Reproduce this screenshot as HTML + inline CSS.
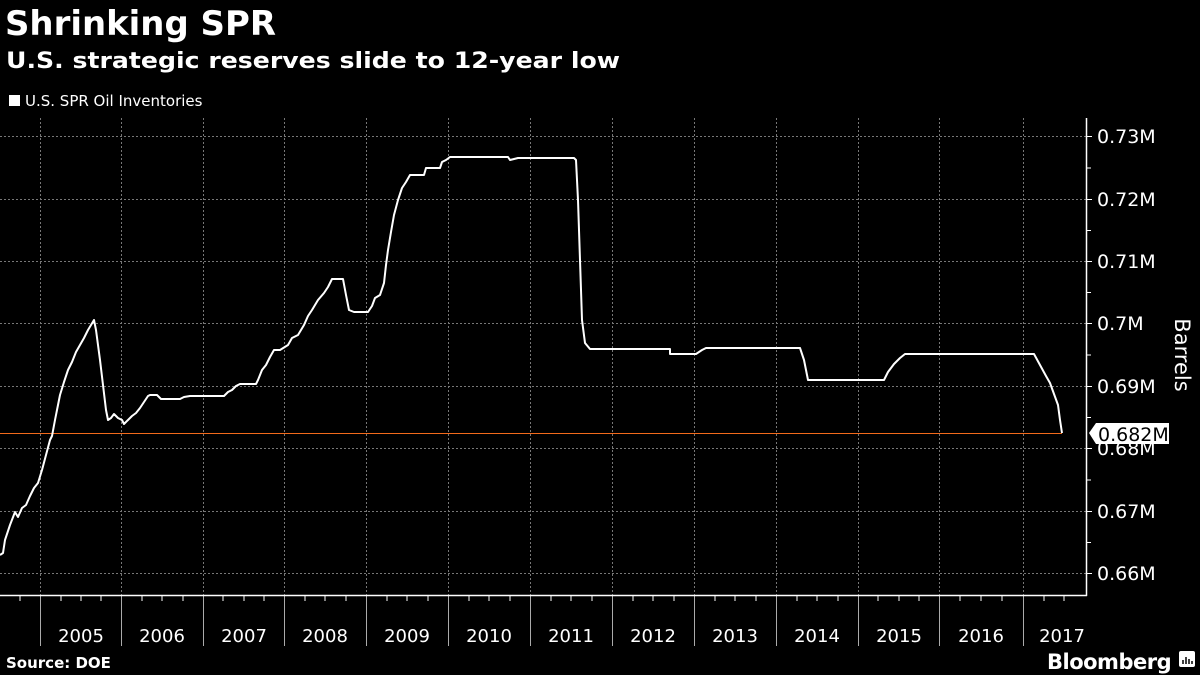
<!DOCTYPE html>
<html><head><meta charset="utf-8"><style>
body{margin:0;background:#000;width:1200px;height:675px;overflow:hidden;font-family:"Liberation Sans",sans-serif;color:#fff}
</style></head><body>
<svg width="1200" height="675" viewBox="0 0 1200 675" xmlns="http://www.w3.org/2000/svg" style="position:absolute;left:0;top:0">
<text x="5" y="35" font-size="34" font-weight="bold" fill="#fff" font-family="DejaVu Sans, sans-serif" textLength="271" lengthAdjust="spacingAndGlyphs">Shrinking SPR</text>
<text x="6" y="68" font-size="22" font-weight="bold" fill="#fff" font-family="DejaVu Sans, sans-serif" textLength="614" lengthAdjust="spacingAndGlyphs">U.S. strategic reserves slide to 12-year low</text>
<rect x="9" y="95" width="11" height="11" fill="#fff"/>
<text x="25" y="106" font-size="15" fill="#fff" font-family="DejaVu Sans, sans-serif">U.S. SPR Oil Inventories</text>
<g stroke="#777" stroke-width="1" stroke-dasharray="2,2">
<line x1="0" x2="1086" y1="136.5" y2="136.5"/><line x1="0" x2="1086" y1="199.5" y2="199.5"/>
<line x1="0" x2="1086" y1="261.5" y2="261.5"/><line x1="0" x2="1086" y1="323.5" y2="323.5"/>
<line x1="0" x2="1086" y1="386.5" y2="386.5"/><line x1="0" x2="1086" y1="448.5" y2="448.5"/>
<line x1="0" x2="1086" y1="511.5" y2="511.5"/><line x1="0" x2="1086" y1="573.5" y2="573.5"/>
<line x1="40.5" x2="40.5" y1="118" y2="595"/><line x1="121.5" x2="121.5" y1="118" y2="595"/>
<line x1="203.5" x2="203.5" y1="118" y2="595"/><line x1="284.5" x2="284.5" y1="118" y2="595"/>
<line x1="366.5" x2="366.5" y1="118" y2="595"/><line x1="448.5" x2="448.5" y1="118" y2="595"/>
<line x1="530.5" x2="530.5" y1="118" y2="595"/><line x1="612.5" x2="612.5" y1="118" y2="595"/>
<line x1="694.5" x2="694.5" y1="118" y2="595"/><line x1="776.5" x2="776.5" y1="118" y2="595"/>
<line x1="858.5" x2="858.5" y1="118" y2="595"/><line x1="939.5" x2="939.5" y1="118" y2="595"/>
<line x1="1023.5" x2="1023.5" y1="118" y2="595"/>
</g>
<g stroke="#aaa" stroke-width="1">
<line x1="40.5" x2="40.5" y1="595" y2="646"/><line x1="121.5" x2="121.5" y1="595" y2="646"/>
<line x1="203.5" x2="203.5" y1="595" y2="646"/><line x1="284.5" x2="284.5" y1="595" y2="646"/>
<line x1="366.5" x2="366.5" y1="595" y2="646"/><line x1="448.5" x2="448.5" y1="595" y2="646"/>
<line x1="530.5" x2="530.5" y1="595" y2="646"/><line x1="612.5" x2="612.5" y1="595" y2="646"/>
<line x1="694.5" x2="694.5" y1="595" y2="646"/><line x1="776.5" x2="776.5" y1="595" y2="646"/>
<line x1="858.5" x2="858.5" y1="595" y2="646"/><line x1="939.5" x2="939.5" y1="595" y2="646"/>
<line x1="1023.5" x2="1023.5" y1="595" y2="646"/>
</g>
<g stroke="#fff" stroke-width="1.5">
<line x1="0" x2="1087" y1="595.5" y2="595.5"/>
<line x1="1086.5" x2="1086.5" y1="118" y2="596"/>
</g>
<g stroke="#fff" stroke-width="1">
<path d="M1086 136.5h6M1086 168h5M1086 199.5h6M1086 230.5h5M1086 261.5h6M1086 292.5h5M1086 323.5h6M1086 355h5M1086 386.5h6M1086 417.5h5M1086 448.5h6M1086 480h5M1086 511.5h6M1086 542.5h5M1086 573.5h6"/>
<path d="M20 595v6M61 595v6M81 595v6M101 595v6M142 595v6M162 595v6M183 595v6M223 595v6M244 595v6M264 595v6M305 595v6M325 595v6M346 595v6M387 595v6M407 595v6M428 595v6M469 595v6M489 595v6M510 595v6M551 595v6M571 595v6M592 595v6M633 595v6M653 595v6M674 595v6M715 595v6M735 595v6M756 595v6M797 595v6M817 595v6M838 595v6M878 595v6M899 595v6M919 595v6M960 595v6M981 595v6M1002 595v6M1044 595v6M1064 595v6"/>
</g>
<g font-size="19" fill="#fff" font-family="DejaVu Sans, sans-serif">
<text x="1097" y="143">0.73M</text><text x="1097" y="206">0.72M</text><text x="1097" y="268">0.71M</text>
<text x="1097" y="330">0.7M</text><text x="1097" y="393">0.69M</text><text x="1097" y="455">0.68M</text>
<text x="1097" y="518">0.67M</text><text x="1097" y="580">0.66M</text>
</g>
<g font-size="18" fill="#fff" text-anchor="middle" font-family="DejaVu Sans, sans-serif">
<text x="81" y="642">2005</text><text x="162" y="642">2006</text><text x="244" y="642">2007</text>
<text x="325" y="642">2008</text><text x="407" y="642">2009</text><text x="489" y="642">2010</text>
<text x="571" y="642">2011</text><text x="653" y="642">2012</text><text x="735" y="642">2013</text>
<text x="817" y="642">2014</text><text x="899" y="642">2015</text><text x="981" y="642">2016</text>
<text x="1062" y="642">2017</text>
</g>
<text transform="translate(1175,355) rotate(90)" font-size="21" fill="#fff" text-anchor="middle" font-family="DejaVu Sans, sans-serif">Barrels</text>
<line x1="0" x2="1062" y1="433.5" y2="433.5" stroke="#f26a1b" stroke-width="1"/>
<polyline fill="none" stroke="#fff" stroke-width="2" stroke-linejoin="round" points="0,555 3,553 5,540 10,525 15,512 18,517 22,508 26,505 30,496 34,488 38,483 42,470 46,455 50,440 52,436 55,420 58,405 60,395 64,382 68,370 72,362 76,352 80,345 84,338 88,330 91,325 94,320 96,330 98,345 100,360 103,385 106,410 108,420 111,418 114,414 118,418 122,420 124,424 128,420 132,416 136,413 140,408 144,402 148,396 150,395 157,395 161,399 180,399 184,397 190,396 224,396 228,392 232,390 236,386 240,384 256,384 258,380 262,370 266,365 270,357 274,350 280,350 288,345 292,338 298,335 304,325 308,316 312,310 318,300 324,293 328,287 332,279 343,279 346,295 349,310 354,312 368,312 372,306 375,298 380,295 384,283 386,265 388,250 391,232 394,215 398,200 402,188 406,182 410,175 424,175 426,168 440,168 442,162 446,160 450,157 508,157 510,160 518,158 574,158 576,160 578,200 580,260 582,320 585,343 590,349 670,349 670,354 696,354 702,350 706,348 800,348 804,360 808,380 884,380 888,372 894,364 900,358 905,354 1034,354 1040,365 1046,376 1050,383 1054,394 1058,405 1060,420 1062,433"/>
<polygon points="1089,433 1096,423 1169,423 1169,444 1096,444" fill="#fff"/>
<text x="1098" y="441" font-size="19" fill="#000" font-family="DejaVu Sans, sans-serif">0.682M</text>
<text x="6" y="668" font-size="15" font-weight="bold" fill="#fff" font-family="DejaVu Sans, sans-serif">Source: DOE</text>
<text x="1047" y="669" font-size="21" font-weight="bold" fill="#fff" font-family="DejaVu Sans, sans-serif" letter-spacing="-0.5">Bloomberg</text>
<rect x="1179" y="651" width="16" height="16" rx="2" fill="#fff"/>
<path d="M1183 664v-4M1186 664v-7M1189 664v-5M1192 664v-3" stroke="#000" stroke-width="1.5"/>
</svg>
</body></html>
